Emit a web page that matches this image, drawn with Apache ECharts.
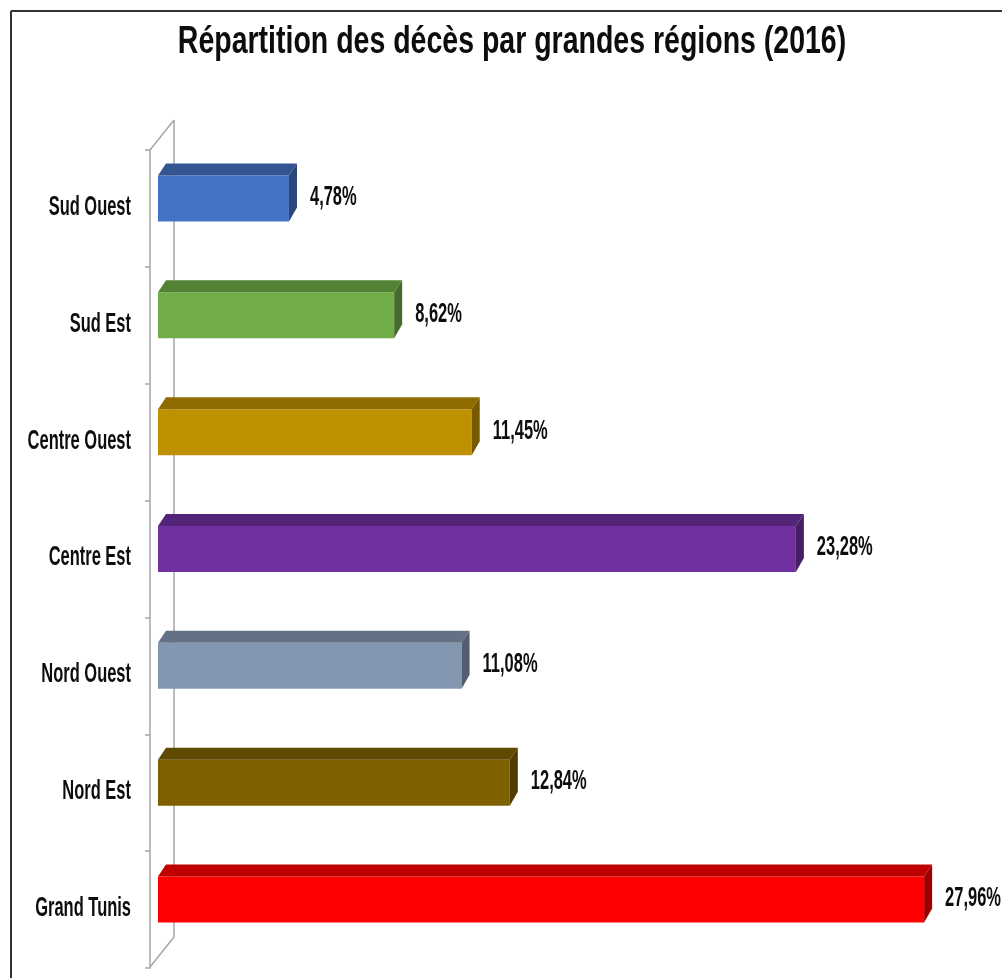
<!DOCTYPE html>
<html>
<head>
<meta charset="utf-8">
<script src="https://cdn.jsdelivr.net/npm/echarts@6/dist/echarts.min.js"></script>
<style>
  html, body { margin: 0; padding: 0; background: #fff; }
  #chart { width: 1002px; height: 978px; }
</style>
</head>
<body>
<div id="chart"></div>
<script>
  // données
  const regions = ['Sud Ouest', 'Sud Est', 'Centre Ouest', 'Centre Est', 'Nord Ouest', 'Nord Est', 'Grand Tunis'];
  const parts = [4.78, 8.62, 11.45, 23.28, 11.08, 12.84, 27.96];
  const palette = ['#4472C4', '#70AD47', '#BF9000', '#7030A0', '#8497B0', '#7F6000', '#FF0000'];

  const FONT = "'Liberation Sans', Arial, sans-serif";
  const wallColor = '#a6a6a6';
  const textColor = '#0d0d0d';
  const squeeze = 0.61;   // texte étroit comme dans l'original

  // assombrir une couleur hex
  function darken(hex, k) {
    const n = parseInt(hex.slice(1), 16);
    const r = Math.round(((n >> 16) & 255) * k);
    const g = Math.round(((n >> 8) & 255) * k);
    const b = Math.round((n & 255) * k);
    return 'rgb(' + r + ',' + g + ',' + b + ')';
  }

  const chart = echarts.init(document.getElementById('chart'));

  // barre "3D" : face avant + dessus + côté, étiquettes incluses
  function renderBar(params, api) {
    const idx = api.value(0);
    const val = api.value(1);
    const p0 = api.coord([0, idx]);
    const p1 = api.coord([val, idx]);
    const cy = p1[1];
    const x0 = p0[0], x1 = p1[0];
    const yt = cy - 33, yb = cy + 13;
    const dx = 8, dy = 12;
    const c = palette[idx];
    return {
      type: 'group',
      children: [
        { type: 'rect', shape: { x: x0, y: yt, width: x1 - x0, height: yb - yt }, style: { fill: c } },
        { type: 'polygon', shape: { points: [[x0, yt], [x0 + dx, yt - dy], [x1 + dx, yt - dy], [x1, yt]] }, style: { fill: darken(c, 0.75) } },
        { type: 'polygon', shape: { points: [[x1, yt], [x1 + dx, yt - dy], [x1 + dx, yb - dy - 2], [x1, yb]] }, style: { fill: darken(c, 0.62) } },
        {
          type: 'text', x: x1 + 21, y: cy - 11, scaleX: squeeze,
          style: {
            x: 0, y: 0,
            text: val.toFixed(2).replace('.', ',') + '%',
            fill: textColor, font: 'bold 27px ' + FONT,
            verticalAlign: 'middle', align: 'left'
          }
        },
        {
          type: 'text', x: x0 - 27, y: cy - 1, scaleX: squeeze,
          style: {
            x: 0, y: 0,
            text: regions[idx],
            fill: textColor, font: 'bold 27px ' + FONT,
            verticalAlign: 'middle', align: 'right'
          }
        }
      ]
    };
  }

  const option = {
    backgroundColor: '#fff',
    animation: false,
    grid: { left: 158, right: 22, top: 150, bottom: 10, outerBoundsMode: 'none' },
    xAxis: {
      type: 'value', min: 0, max: 30,
      show: false
    },
    yAxis: {
      type: 'category',
      inverse: true,
      data: regions,
      offset: 8,
      axisLine: { onZero: false, lineStyle: { color: wallColor, width: 1.5 } },
      axisTick: { show: true, length: 5, lineStyle: { color: wallColor, width: 1.5 } },
      axisLabel: { show: false },
      splitLine: { show: false }
    },
    graphic: [
      // titre
      {
        type: 'text', x: 512, y: 43, scaleX: 0.75,
        style: {
          x: 0, y: 0,
          text: 'Répartition des décès par grandes régions (2016)',
          fill: textColor, font: 'bold 38px ' + FONT,
          align: 'center', verticalAlign: 'middle'
        }
      },
      // cadre
      { type: 'line', shape: { x1: 11, y1: 11, x2: 1002, y2: 11 }, style: { stroke: '#333', lineWidth: 2 } },
      { type: 'line', shape: { x1: 11, y1: 11, x2: 11, y2: 978 }, style: { stroke: '#333', lineWidth: 2 } },
      // paroi arrière
      { type: 'line', shape: { x1: 174, y1: 120, x2: 174, y2: 937 }, style: { stroke: wallColor, lineWidth: 1.5 } },
      { type: 'line', shape: { x1: 150, y1: 150, x2: 174, y2: 120 }, style: { stroke: wallColor, lineWidth: 1.5 } },
      { type: 'line', shape: { x1: 150, y1: 967, x2: 174, y2: 937 }, style: { stroke: wallColor, lineWidth: 1.5 } }
    ],
    series: [{
      type: 'custom',
      renderItem: renderBar,
      encode: { x: 1, y: 0 },
      data: parts.map((v, i) => [i, v])
    }]
  };

  chart.setOption(option);
</script>
</body>
</html>
